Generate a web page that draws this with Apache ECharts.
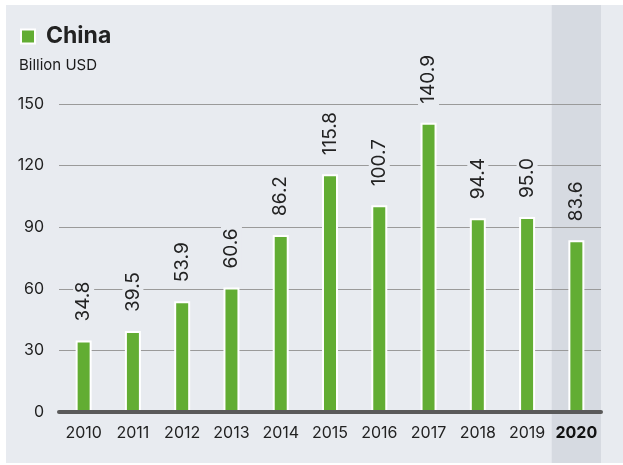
<!doctype html>
<html lang="en">
<head>
<meta charset="UTF-8">
<title>China</title>
<style>
	html, body { margin: 0; padding: 0; background: #fff; }
	#chart { position: absolute; left: 6px; top: 5px; width: 617px; height: 458px; background: #e8ebf0; }
</style>
</head>
<body>
<div id="chart"></div>
<script src="https://cdn.jsdelivr.net/npm/echarts@6/dist/echarts.min.js"></script>
<script>
	// data
	var years = ['2010', '2011', '2012', '2013', '2014', '2015', '2016', '2017', '2018', '2019', '2020'];
	var investment = [34.8, 39.5, 53.9, 60.6, 86.2, 115.8, 100.7, 140.9, 94.4, 95.0, 83.6];
	var highlight = [0, 0, 0, 0, 0, 0, 0, 0, 0, 0, 1];
	var yTicks = [0, 30, 60, 90, 120, 150];

	var panel = '#e8ebf0';
	var shade = '#d6dae1';
	var myChart = echarts.init(document.getElementById('chart'));

	// bar data, the highlighted year gets a label background matching the shading
	var barData = investment.map(function (v, i) {
		var item = { value: v };
		if (highlight[i]) item.label = { backgroundColor: shade };
		return item;
	});

	var option = {
		animation: false,
		textStyle: { fontFamily: 'Inter, Roboto, sans-serif' },
		title: {
			text: 'Billion USD',
			left: 8, top: 48,
			textStyle: { fontSize: 15, fontWeight: 'normal', color: '#1a1a1a' }
		},
		legend: {
			data: ['China'],
			left: 9, top: 15,
			icon: 'rect',
			itemWidth: 14, itemHeight: 14,
			itemStyle: { borderColor: '#fff', borderWidth: 2 },
			textStyle: { fontSize: 23, fontWeight: 'bold', color: '#222', padding: [0, 0, 0, 6] }
		},
		grid: [
			{ left: 53, right: 22, top: 99, bottom: 51 },
			{ left: 53, right: 22, top: 0, bottom: 0 }
		],
		xAxis: [{
			type: 'category',
			data: years,
			gridIndex: 0,
			z: 5,
			axisLine: { lineStyle: { color: '#5a5a5a', width: 4 } },
			axisTick: { show: false },
			axisLabel: {
				interval: 0,
				fontSize: 16, color: '#222', margin: 13,
				formatter: function (v) { return v === '2020' ? '{b|' + v + '}' : v; },
				rich: { b: { fontSize: 16, fontWeight: 'bold', color: '#111' } }
			}
		}, {
			type: 'category',
			data: years,
			gridIndex: 1,
			show: false
		}],
		yAxis: [{
			type: 'value',
			gridIndex: 0,
			min: 0, max: 150, interval: 30,
			axisLine: { show: false },
			axisTick: { show: false },
			axisLabel: {
				fontSize: 16, color: '#222', margin: 15,
				formatter: function (v) { return yTicks.indexOf(v) >= 0 ? String(v) : ''; }
			},
			splitLine: { lineStyle: { color: '#9a9a9a', width: 1 } }
		}, {
			type: 'value',
			gridIndex: 1,
			min: 0, max: 1,
			show: false
		}],
		series: [{
			type: 'bar',
			xAxisIndex: 1, yAxisIndex: 1,
			data: highlight,
			barWidth: '100%',
			silent: true,
			z: -1,
			itemStyle: { color: shade }
		}, {
			name: 'China',
			type: 'bar',
			data: barData,
			barWidth: 16,
			z: 3,
			itemStyle: { color: '#62ad33', borderColor: '#fff', borderWidth: 2 },
			label: {
				show: true,
				position: 'top',
				rotate: 90,
				distance: 15,
				align: 'left',
				verticalAlign: 'middle',
				fontSize: 19,
				color: '#222',
				backgroundColor: panel,
				padding: [1, 4],
				formatter: function (p) { return p.value.toFixed(1); }
			}
		}]
	};

	myChart.setOption(option);
</script>
</body>
</html>
